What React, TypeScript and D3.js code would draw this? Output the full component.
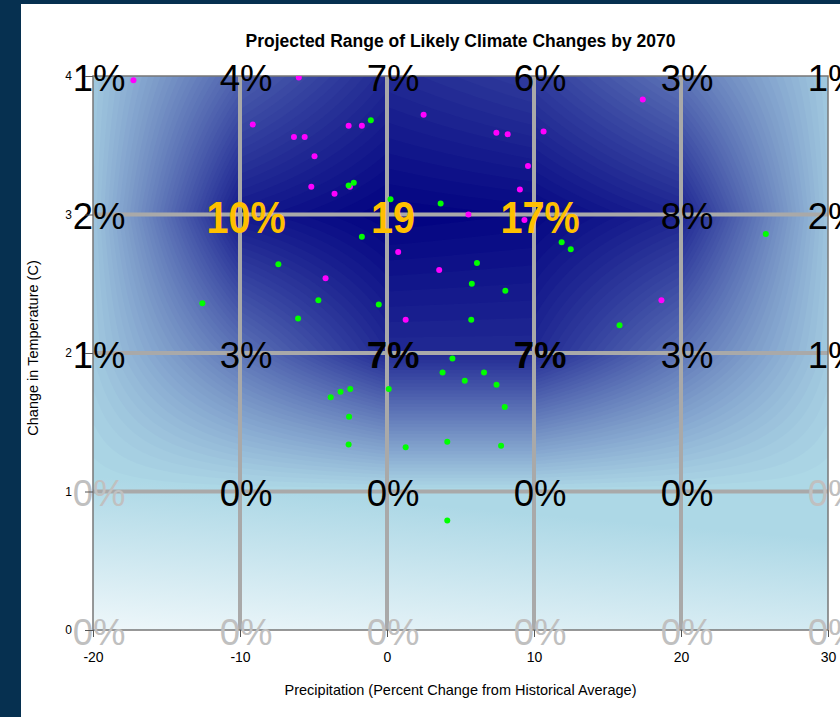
import { useRef, useEffect } from 'react';
import * as d3 from 'd3';

/* ── Data ────────────────────────────────────────────────────────── */
const precipTicks = [-20, -10, 0, 10, 20, 30];   // % change in precipitation
const tempTicks = [0, 1, 2, 3, 4];               // change in temperature (C)

// likelihood label at each grid node, one array per temperature row
const labelsAt4C = ['1%', '4%', '7%', '6%', '3%', '1%'];
const labelsAt3C = ['2%', '10%', '19', '17%', '8%', '2%'];
const labelsAt2C = ['1%', '3%', '7%', '7%', '3%', '1%'];
const labelsAt1C = ['0%', '0%', '0%', '0%', '0%', '0%'];
const labelsAt0C = ['0%', '0%', '0%', '0%', '0%', '0%'];

// how each label is emphasised: n = normal, b = bold, h = highlighted, f = faint
const emphasisAt4C = ['n', 'n', 'n', 'n', 'n', 'n'];
const emphasisAt3C = ['n', 'h', 'h', 'h', 'n', 'n'];
const emphasisAt2C = ['n', 'n', 'b', 'b', 'n', 'n'];
const emphasisAt1C = ['f', 'n', 'n', 'n', 'n', 'f'];
const emphasisAt0C = ['f', 'f', 'f', 'f', 'f', 'f'];

// model runs [precip %, temp C]
const magentaRuns = [
  [-17.25, 3.97], [-6.0, 3.99], [-9.13, 3.65], [-6.33, 3.56], [-5.6, 3.56],
  [-4.93, 3.42], [-2.61, 3.64], [-1.71, 3.64], [2.49, 3.72], [7.44, 3.59],
  [8.21, 3.58], [10.65, 3.6], [17.4, 3.83], [9.59, 3.35], [-5.15, 3.2],
  [-3.57, 3.15], [-2.52, 3.2], [9.04, 3.18], [5.54, 3.0], [9.35, 2.96],
  [0.76, 2.73], [3.55, 2.6], [-4.18, 2.54], [1.27, 2.24], [18.67, 2.38],
];
const greenRuns = [
  [-1.1, 3.68], [-2.26, 3.23], [-2.61, 3.21], [0.24, 3.11], [3.65, 3.08],
  [-1.71, 2.84], [11.88, 2.8], [12.5, 2.75], [25.77, 2.86], [-7.39, 2.64],
  [6.12, 2.65], [5.77, 2.5], [8.05, 2.45], [-12.56, 2.36], [-4.67, 2.38],
  [-0.56, 2.35], [-6.05, 2.25], [5.73, 2.24], [15.82, 2.2], [4.45, 1.96],
  [3.78, 1.86], [6.6, 1.86], [5.29, 1.8], [7.45, 1.77], [-3.16, 1.72],
  [-2.5, 1.74], [-3.83, 1.68], [0.12, 1.74], [8.01, 1.61], [-2.58, 1.54],
  [-2.61, 1.34], [1.27, 1.32], [4.1, 1.36], [7.76, 1.33], [4.1, 0.79],
];

const labelRows = [labelsAt0C, labelsAt1C, labelsAt2C, labelsAt3C, labelsAt4C];
const emphasisRows = [emphasisAt0C, emphasisAt1C, emphasisAt2C, emphasisAt3C, emphasisAt4C];

const SANS = "'Liberation Sans', Arial, sans-serif";
const NARROW = "'Liberation Sans Narrow', 'Arial Narrow', sans-serif";

export default function App() {
  const svgRef = useRef<SVGSVGElement>(null);

  useEffect(() => {
    const svg = d3.select(svgRef.current);
    svg.selectAll('*').remove();

    const W = 840, H = 717;
    const plot = { left: 93, right: 828, top: 76, bottom: 630 };
    const plotW = plot.right - plot.left, plotH = plot.bottom - plot.top;

    const x = d3.scaleLinear().domain([-20, 30]).range([plot.left, plot.right]);
    const y = d3.scaleLinear().domain([0, 4]).range([plot.bottom, plot.top]);

    const defs = svg.append('defs');
    defs.append('clipPath').attr('id', 'plot-clip')
      .append('rect')
      .attr('x', plot.left).attr('y', plot.top)
      .attr('width', plotW).attr('height', plotH);

    const base = defs.append('linearGradient').attr('id', 'base-grad')
      .attr('gradientUnits', 'userSpaceOnUse')
      .attr('x1', plot.left).attr('y1', plot.bottom)
      .attr('x2', plot.left + 13).attr('y2', y(1.1));
    base.append('stop').attr('offset', 0).attr('stop-color', '#eef7fa');
    base.append('stop').attr('offset', 1).attr('stop-color', '#add8e6');

    // page backdrop + white panel
    svg.append('rect').attr('width', W).attr('height', H).attr('fill', '#063050');
    svg.append('rect').attr('x', 21).attr('y', 4).attr('width', W - 21).attr('height', H - 4)
      .attr('fill', '#ffffff');

    // plot background
    svg.append('rect')
      .attr('x', plot.left).attr('y', plot.top)
      .attr('width', plotW).attr('height', plotH)
      .attr('fill', 'url(#base-grad)');

    // likelihood field: shade each node, then blend shades bilinearly across cells
    const shade = d3.scaleLinear()
      .domain([0, 1, 2, 3, 7, 10, 19])
      .range([0, 0.08, 0.1, 0.47, 0.82, 0.9, 1])
      .clamp(true);
    const nodeShade = labelRows.map(r => r.map(s => shade(parseFloat(s))));
    const fieldAt = (px: number, tc: number) => {
      const c = Math.max(0, Math.min(precipTicks.length - 2, Math.floor((px - precipTicks[0]) / 10)));
      const r = Math.max(0, Math.min(tempTicks.length - 2, Math.floor(tc - tempTicks[0])));
      const fx = (px - precipTicks[c]) / 10, fy = tc - tempTicks[r];
      const g = nodeShade;
      return (g[r][c] * (1 - fx) + g[r][c + 1] * fx) * (1 - fy)
        + (g[r + 1][c] * (1 - fx) + g[r + 1][c + 1] * fx) * fy;
    };
    const color = d3.interpolateRgb('#add8e6', '#000080');

    const nx = 245, ny = 185;
    const cw = plotW / nx, ch = plotH / ny;
    const values = new Array(nx * ny);
    for (let j = 0; j < ny; j++) {
      for (let i = 0; i < nx; i++) {
        const px = x.invert(plot.left + (i + 0.5) * cw);
        const tc = y.invert(plot.top + (j + 0.5) * ch);
        values[j * nx + i] = fieldAt(px, tc);
      }
    }
    const thresholds = d3.range(0.02, 1.0001, 0.02);
    const contours = d3.contours().size([nx, ny]).thresholds(thresholds)(values);

    svg.append('g')
      .attr('clip-path', 'url(#plot-clip)')
      .append('g')
      .attr('transform', `translate(${plot.left},${plot.top}) scale(${cw},${ch})`)
      .selectAll('path')
      .data(contours)
      .join('path')
      .attr('d', d3.geoPath())
      .attr('fill', d => color(d.value));

    // grid lines
    const gridG = svg.append('g');
    gridG.selectAll('line.vx')
      .data(precipTicks.slice(1, -1))
      .join('line')
      .attr('x1', d => x(d)).attr('x2', d => x(d))
      .attr('y1', plot.top).attr('y2', plot.bottom)
      .attr('stroke', '#a9a9a9').attr('stroke-width', 4);
    gridG.selectAll('line.hy')
      .data(tempTicks.slice(1, -1))
      .join('line')
      .attr('x1', plot.left).attr('x2', plot.right)
      .attr('y1', d => y(d)).attr('y2', d => y(d))
      .attr('stroke', '#a9a9a9').attr('stroke-width', 4);

    // frame
    svg.append('rect')
      .attr('x', plot.left).attr('y', plot.top)
      .attr('width', plotW).attr('height', plotH)
      .attr('fill', 'none').attr('stroke', '#777').attr('stroke-width', 1.5);

    // model runs
    const dots = svg.append('g').attr('clip-path', 'url(#plot-clip)');
    dots.selectAll('circle.m')
      .data(magentaRuns)
      .join('circle')
      .attr('cx', d => x(d[0])).attr('cy', d => y(d[1]))
      .attr('r', 3).attr('fill', '#ff00ff');
    dots.selectAll('circle.g')
      .data(greenRuns, (_d, i) => 'g' + i)
      .join('circle')
      .attr('cx', d => x(d[0])).attr('cy', d => y(d[1]))
      .attr('r', 3).attr('fill', '#00ff00');

    // node labels
    const nodes = tempTicks.flatMap((t, r) => precipTicks.map((p, c) => ({
      p, t, text: labelRows[r][c], kind: emphasisRows[r][c],
    })));
    svg.append('g')
      .selectAll('text')
      .data(nodes)
      .join('text')
      .attr('transform', d => `translate(${x(d.p) + 6},${y(d.t)}) scale(${d.kind === 'h' ? 0.88 : 1},1)`)
      .attr('dy', '0.4em')
      .attr('text-anchor', 'middle')
      .attr('font-family', NARROW)
      .attr('font-size', d => d.kind === 'h' ? 45 : 36.5)
      .attr('font-weight', d => d.kind === 'h' || d.kind === 'b' ? 'bold' : 'normal')
      .attr('fill', d => d.kind === 'h' ? '#ffc000' : d.kind === 'f' ? '#c0c0c0' : '#000')
      .text(d => d.text);

    // axes (drawn last so tick labels sit above the node labels)
    const xAxis = svg.append('g')
      .attr('transform', `translate(0,${plot.bottom})`)
      .call(d3.axisBottom(x).tickValues(precipTicks).tickFormat(d => String(d))
        .tickSize(7).tickPadding(15).tickSizeOuter(0));
    xAxis.select('.domain').remove();
    xAxis.selectAll('line').attr('stroke', '#555');
    xAxis.selectAll('text').attr('font-family', SANS).attr('font-size', 14).attr('fill', '#000');

    const yAxis = svg.append('g')
      .attr('transform', `translate(${plot.left},0)`)
      .call(d3.axisLeft(y).tickValues(tempTicks).tickFormat(d => String(d))
        .tickSize(8).tickPadding(13).tickSizeOuter(0));
    yAxis.select('.domain').remove();
    yAxis.selectAll('line').attr('stroke', '#555');
    yAxis.selectAll('text').attr('font-family', SANS).attr('font-size', 12).attr('fill', '#000');

    // titles
    svg.append('text')
      .attr('x', (plot.left + plot.right) / 2).attr('y', 47)
      .attr('text-anchor', 'middle')
      .attr('font-family', SANS).attr('font-size', 17.5).attr('font-weight', 'bold')
      .text('Projected Range of Likely Climate Changes by 2070');

    svg.append('text')
      .attr('x', (plot.left + plot.right) / 2).attr('y', 695)
      .attr('text-anchor', 'middle')
      .attr('font-family', SANS).attr('font-size', 14.5)
      .text('Precipitation (Percent Change from Historical Average)');

    svg.append('text')
      .attr('transform', `translate(38,${(plot.top + plot.bottom) / 2 - 5}) rotate(-90)`)
      .attr('text-anchor', 'middle')
      .attr('font-family', SANS).attr('font-size', 14.5)
      .text('Change in Temperature (C)');
  }, []);

  return (
    <svg
      ref={svgRef}
      width={840}
      height={717}
      style={{ position: 'absolute', left: 0, top: 0 }}
    />
  );
}
